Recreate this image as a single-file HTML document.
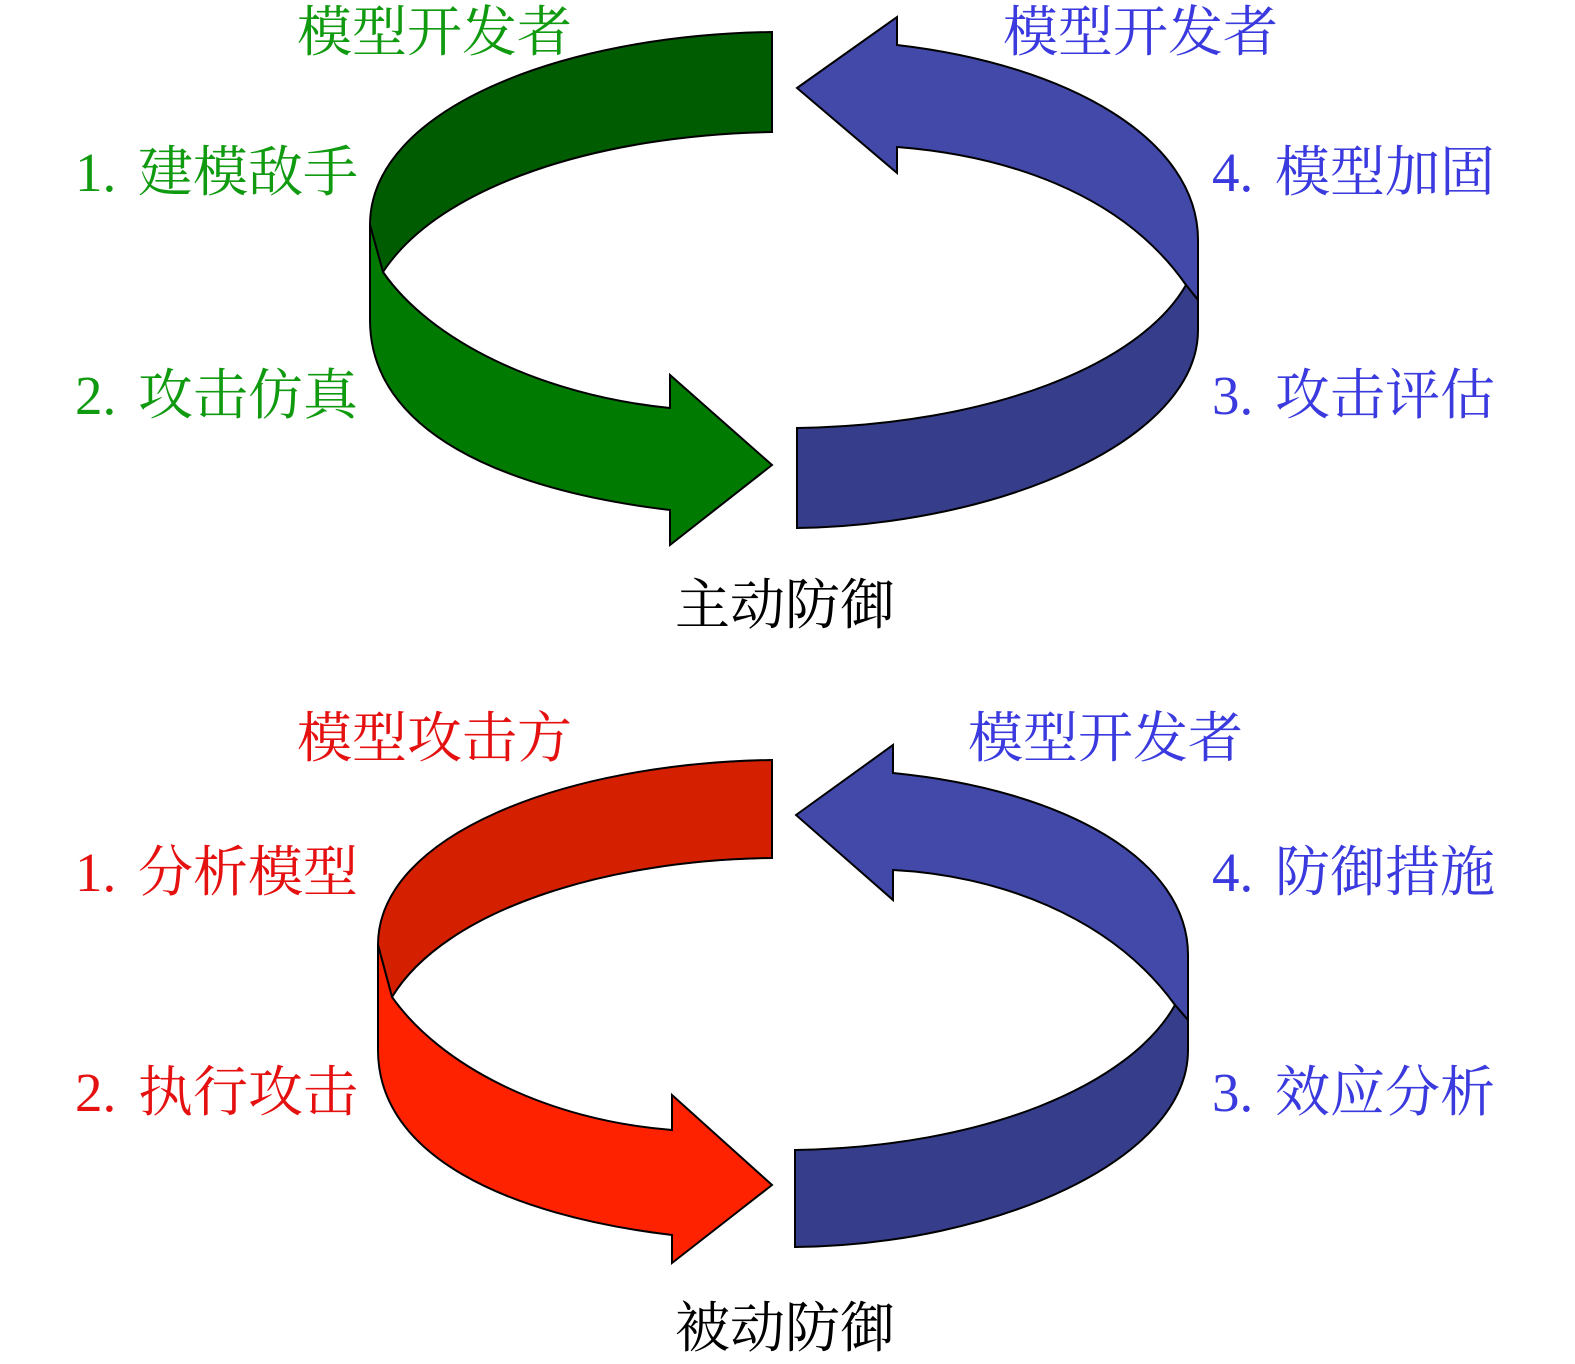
<!DOCTYPE html>
<html><head><meta charset="utf-8"><style>
html,body{margin:0;padding:0;background:#fff;}
svg{display:block;}
text{font-family:"Liberation Serif","Noto Serif CJK SC",serif;font-size:55px;}
</style></head><body>
<svg width="1575" height="1364" viewBox="0 0 1575 1364" xmlns="http://www.w3.org/2000/svg">
<g stroke="#000" stroke-width="2" stroke-linejoin="miter">
<path d="M772,32 C560,35 370,110 370,225 L383,272 C440,185 600,135 772,132 Z" fill="#005c00"/>
<path d="M370,225 L383,272 C430,340 540,395 670,408 L670,375 L772,465 L670,545 L670,510 C500,490 370,430 370,320 Z" fill="#007a00"/>
<path d="M797,88 L897,17 L897,45 C1070,65 1198,140 1198,240 L1198,300 L1186,285 C1120,190 1000,155 897,147 L897,173 Z" fill="#4349a9"/>
<path d="M1186,285 L1198,300 L1198,330 C1198,440 1000,525 797,528 L797,428 C990,425 1140,365 1186,285 Z" fill="#363d8a"/>
<path d="M772,760 C565,763 378,835 378,945 L392,997 C445,910 605,860 772,858 Z" fill="#d42000"/>
<path d="M378,945 L392,997 C440,1065 545,1120 672,1130 L672,1095 L772,1185 L672,1263 L672,1235 C505,1215 378,1155 378,1050 Z" fill="#ff2200"/>
<path d="M796,815 L893,745 L893,773 C1065,790 1188,860 1188,955 L1188,1020 L1175,1005 C1110,915 995,875 893,870 L893,900 Z" fill="#4349a9"/>
<path d="M1175,1005 L1188,1020 L1188,1050 C1188,1160 995,1245 795,1247 L795,1150 C985,1147 1130,1085 1175,1005 Z" fill="#363d8a"/>
</g>
<g fill="#109a10">
<text x="297" y="51">模型开发者</text>
<text x="75" y="191">1.</text><text x="138" y="191">建模敌手</text>
<text x="75" y="414">2.</text><text x="138" y="414">攻击仿真</text>
</g>
<g fill="#3a3adf">
<text x="1003" y="51">模型开发者</text>
<text x="1212" y="191">4.</text><text x="1275" y="191">模型加固</text>
<text x="1212" y="414">3.</text><text x="1275" y="414">攻击评估</text>
<text x="968" y="757">模型开发者</text>
<text x="1212" y="891">4.</text><text x="1275" y="891">防御措施</text>
<text x="1212" y="1111">3.</text><text x="1275" y="1111">效应分析</text>
</g>
<g fill="#e51010">
<text x="297" y="757">模型攻击方</text>
<text x="75" y="891">1.</text><text x="138" y="891">分析模型</text>
<text x="75" y="1111">2.</text><text x="138" y="1111">执行攻击</text>
</g>
<g fill="#000">
<text x="675" y="624">主动防御</text>
<text x="675" y="1347">被动防御</text>
</g>
</svg>
</body></html>
